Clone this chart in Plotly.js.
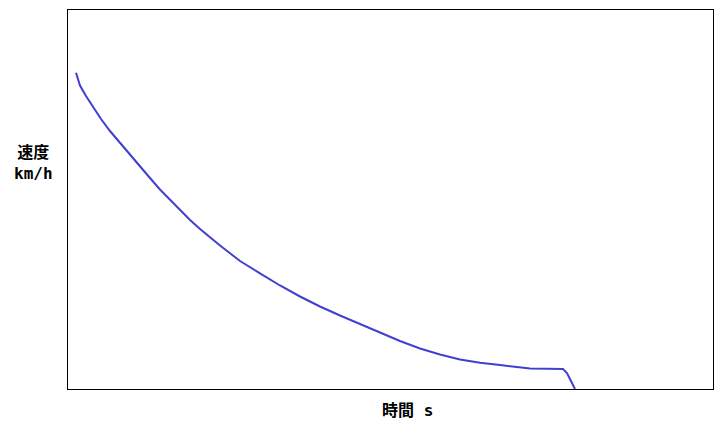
<!DOCTYPE html>
<html>
<head>
<meta charset="utf-8">
<script src="https://cdn.plot.ly/plotly-3.0.1.min.js"></script>
<style>html,body{margin:0;padding:0;background:#fff;}#chart{width:724px;height:427px;}</style>
</head>
<body>
<div id="chart"></div>
<script>
var timeS = [1.24, 1.86, 2.79, 3.88, 5.12, 6.51, 8.06, 9.61, 11.16, 12.71, 14.26, 15.81, 17.36, 18.92, 20.47, 22.02, 23.57, 25.12, 26.67, 29.77, 32.87, 35.97, 39.07, 42.17, 45.27, 48.37, 51.47, 54.57, 57.67, 60.78, 63.88, 66.98, 70.08, 71.63, 76.74, 77.36, 78.60];
var speedKmh = [83.46, 80.08, 77.31, 74.41, 71.24, 68.07, 64.91, 61.74, 58.71, 55.67, 52.64, 49.87, 47.10, 44.59, 42.22, 39.97, 37.86, 35.81, 33.77, 30.53, 27.31, 24.41, 21.77, 19.39, 17.10, 14.83, 12.67, 10.69, 9.10, 7.78, 6.94, 6.33, 5.73, 5.41, 5.28, 4.22, 0];
var xTitle = "時間 s";
var yTitle = "速度<br>km/h";

var fontFam = "DejaVu Sans Mono, Noto Sans CJK JP, monospace";

Plotly.newPlot("chart", [{
  x: timeS, y: speedKmh, type: "scatter", mode: "lines",
  line: {color: "#4040d0", width: 2},
  hoverinfo: "none"
}], {
  width: 724, height: 427,
  margin: {l: 68, r: 11, t: 10, b: 38, pad: 0},
  paper_bgcolor: "#fff", plot_bgcolor: "#fff",
  showlegend: false,
  xaxis: {range: [0, 100], showticklabels: false, ticks: "", showgrid: false, zeroline: false,
          showline: true, mirror: true, linecolor: "#000", linewidth: 1},
  yaxis: {range: [0, 100], showticklabels: false, ticks: "", showgrid: false, zeroline: false,
          showline: true, mirror: true, linecolor: "#000", linewidth: 1},
  annotations: [
    {text: xTitle, xref: "paper", yref: "paper", x: 0.526, y: -0.058, showarrow: false,
     xanchor: "center", yanchor: "middle", font: {family: fontFam, size: 16, color: "#000", weight: "bold"}},
    {text: yTitle, xref: "paper", yref: "paper", x: -0.054, y: 0.597, showarrow: false,
     xanchor: "center", yanchor: "middle", align: "center", font: {family: fontFam, size: 16, color: "#000", weight: "bold"}}
  ]
}, {displayModeBar: false, staticPlot: true});
</script>
</body>
</html>
